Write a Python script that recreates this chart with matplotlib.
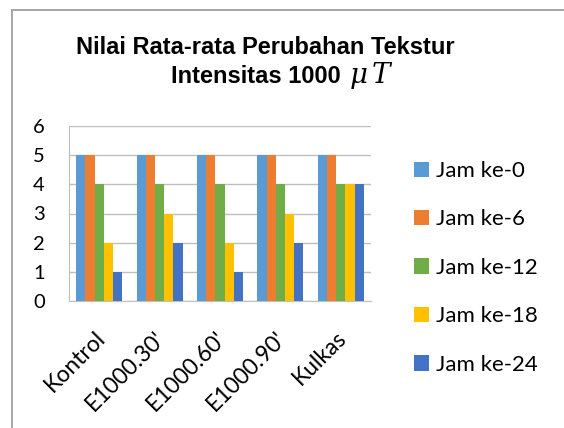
import matplotlib
matplotlib.use("Agg")
import matplotlib.pyplot as plt
import matplotlib.transforms as mtransforms
import numpy as np
from matplotlib.lines import Line2D
from matplotlib.patches import Patch

# ---- Data ----
categories = ["Kontrol", "E1000.30'", "E1000.60'", "E1000.90'", "Kulkas"]
series     = ["Jam ke-0", "Jam ke-6", "Jam ke-12", "Jam ke-18", "Jam ke-24"]
jam_0  = [5, 5, 5, 5, 5]
jam_6  = [5, 5, 5, 5, 5]
jam_12 = [4, 4, 4, 4, 4]
jam_18 = [2, 3, 2, 3, 4]
jam_24 = [1, 2, 1, 2, 4]
yticks = [0, 1, 2, 3, 4, 5, 6]

colors = ["#5B9BD5", "#ED7D31", "#70AD47", "#FFC000", "#4472C4"]
BODY_FONT = "Lato"
W, H = 564, 428

plt.rcParams["mathtext.fontset"] = "dejavuserif"

fig = plt.figure(figsize=(W / 100, H / 100), dpi=100)
fig.patch.set_facecolor("white")

# outer chart border (top + left visible)
fig.add_artist(Line2D([12 / W, 12 / W], [0, 1 - 10 / H], color="#a6a6a6", lw=1.4))
fig.add_artist(Line2D([12 / W, 1], [1 - 10 / H, 1 - 10 / H], color="#a6a6a6", lw=1.4))

ax = fig.add_axes([69 / W, 1 - 301 / H, 302 / W, 175 / H])

x = np.arange(len(categories))
bw = 0.152
all_vals = [jam_0, jam_6, jam_12, jam_18, jam_24]
for j, (vals, name) in enumerate(zip(all_vals, series)):
    ax.bar(x + (j - 2) * bw, vals, width=bw, color=colors[j], label=name, zorder=3)

ax.set_xlim(-0.5, len(categories) - 0.5)
ax.set_ylim(0, 6)
ax.set_yticks(yticks)
ax.yaxis.grid(True, color="#bfbfbf", lw=1, zorder=0)
for s in ["top", "right"]:
    ax.spines[s].set_visible(False)
for s in ["left", "bottom"]:
    ax.spines[s].set_color("#bfbfbf")
ax.tick_params(axis="both", length=0)
ax.tick_params(axis="y", pad=17.5)
ax.tick_params(axis="x", pad=19)
ax.set_xticks(x)
ax.set_xticklabels(categories, rotation=45, ha="right", va="top",
                   rotation_mode="anchor", family=BODY_FONT, fontsize=16.5)
for lab in ax.get_yticklabels():
    lab.set_family(BODY_FONT)
    lab.set_fontsize(14.5)
# nudge the slanted category labels a few pixels left
shift = mtransforms.ScaledTranslation(-5 / 100, 0, fig.dpi_scale_trans)
for lab in ax.get_xticklabels():
    lab.set_transform(lab.get_transform() + shift)

# title: two lines, the unit drawn in a wider italic like the original
fig.text(265 / W, 1 - 54 / H, "Nilai Rata-rata Perubahan Tekstur",
         ha="center", va="baseline", fontsize=17, fontweight="bold",
         family="Liberation Sans")
fig.text(341 / W, 1 - 83 / H, "Intensitas 1000",
         ha="right", va="baseline", fontsize=17, fontweight="bold",
         family="Liberation Sans")
fig.text(349 / W, 1 - 83 / H, r"$\mu\,T$",
         ha="left", va="baseline", fontsize=20)

handles = [Patch(facecolor=c, edgecolor="none") for c in colors]
fig.legend(handles, series, loc="upper left", bbox_to_anchor=(414 / W, 1 - 161 / H),
           frameon=False, prop={"family": BODY_FONT, "size": 16},
           handlelength=0.68, handleheight=0.68, handletextpad=0.32,
           labelspacing=1.28, borderaxespad=0, borderpad=0)

fig.savefig("out.png", dpi=100)
